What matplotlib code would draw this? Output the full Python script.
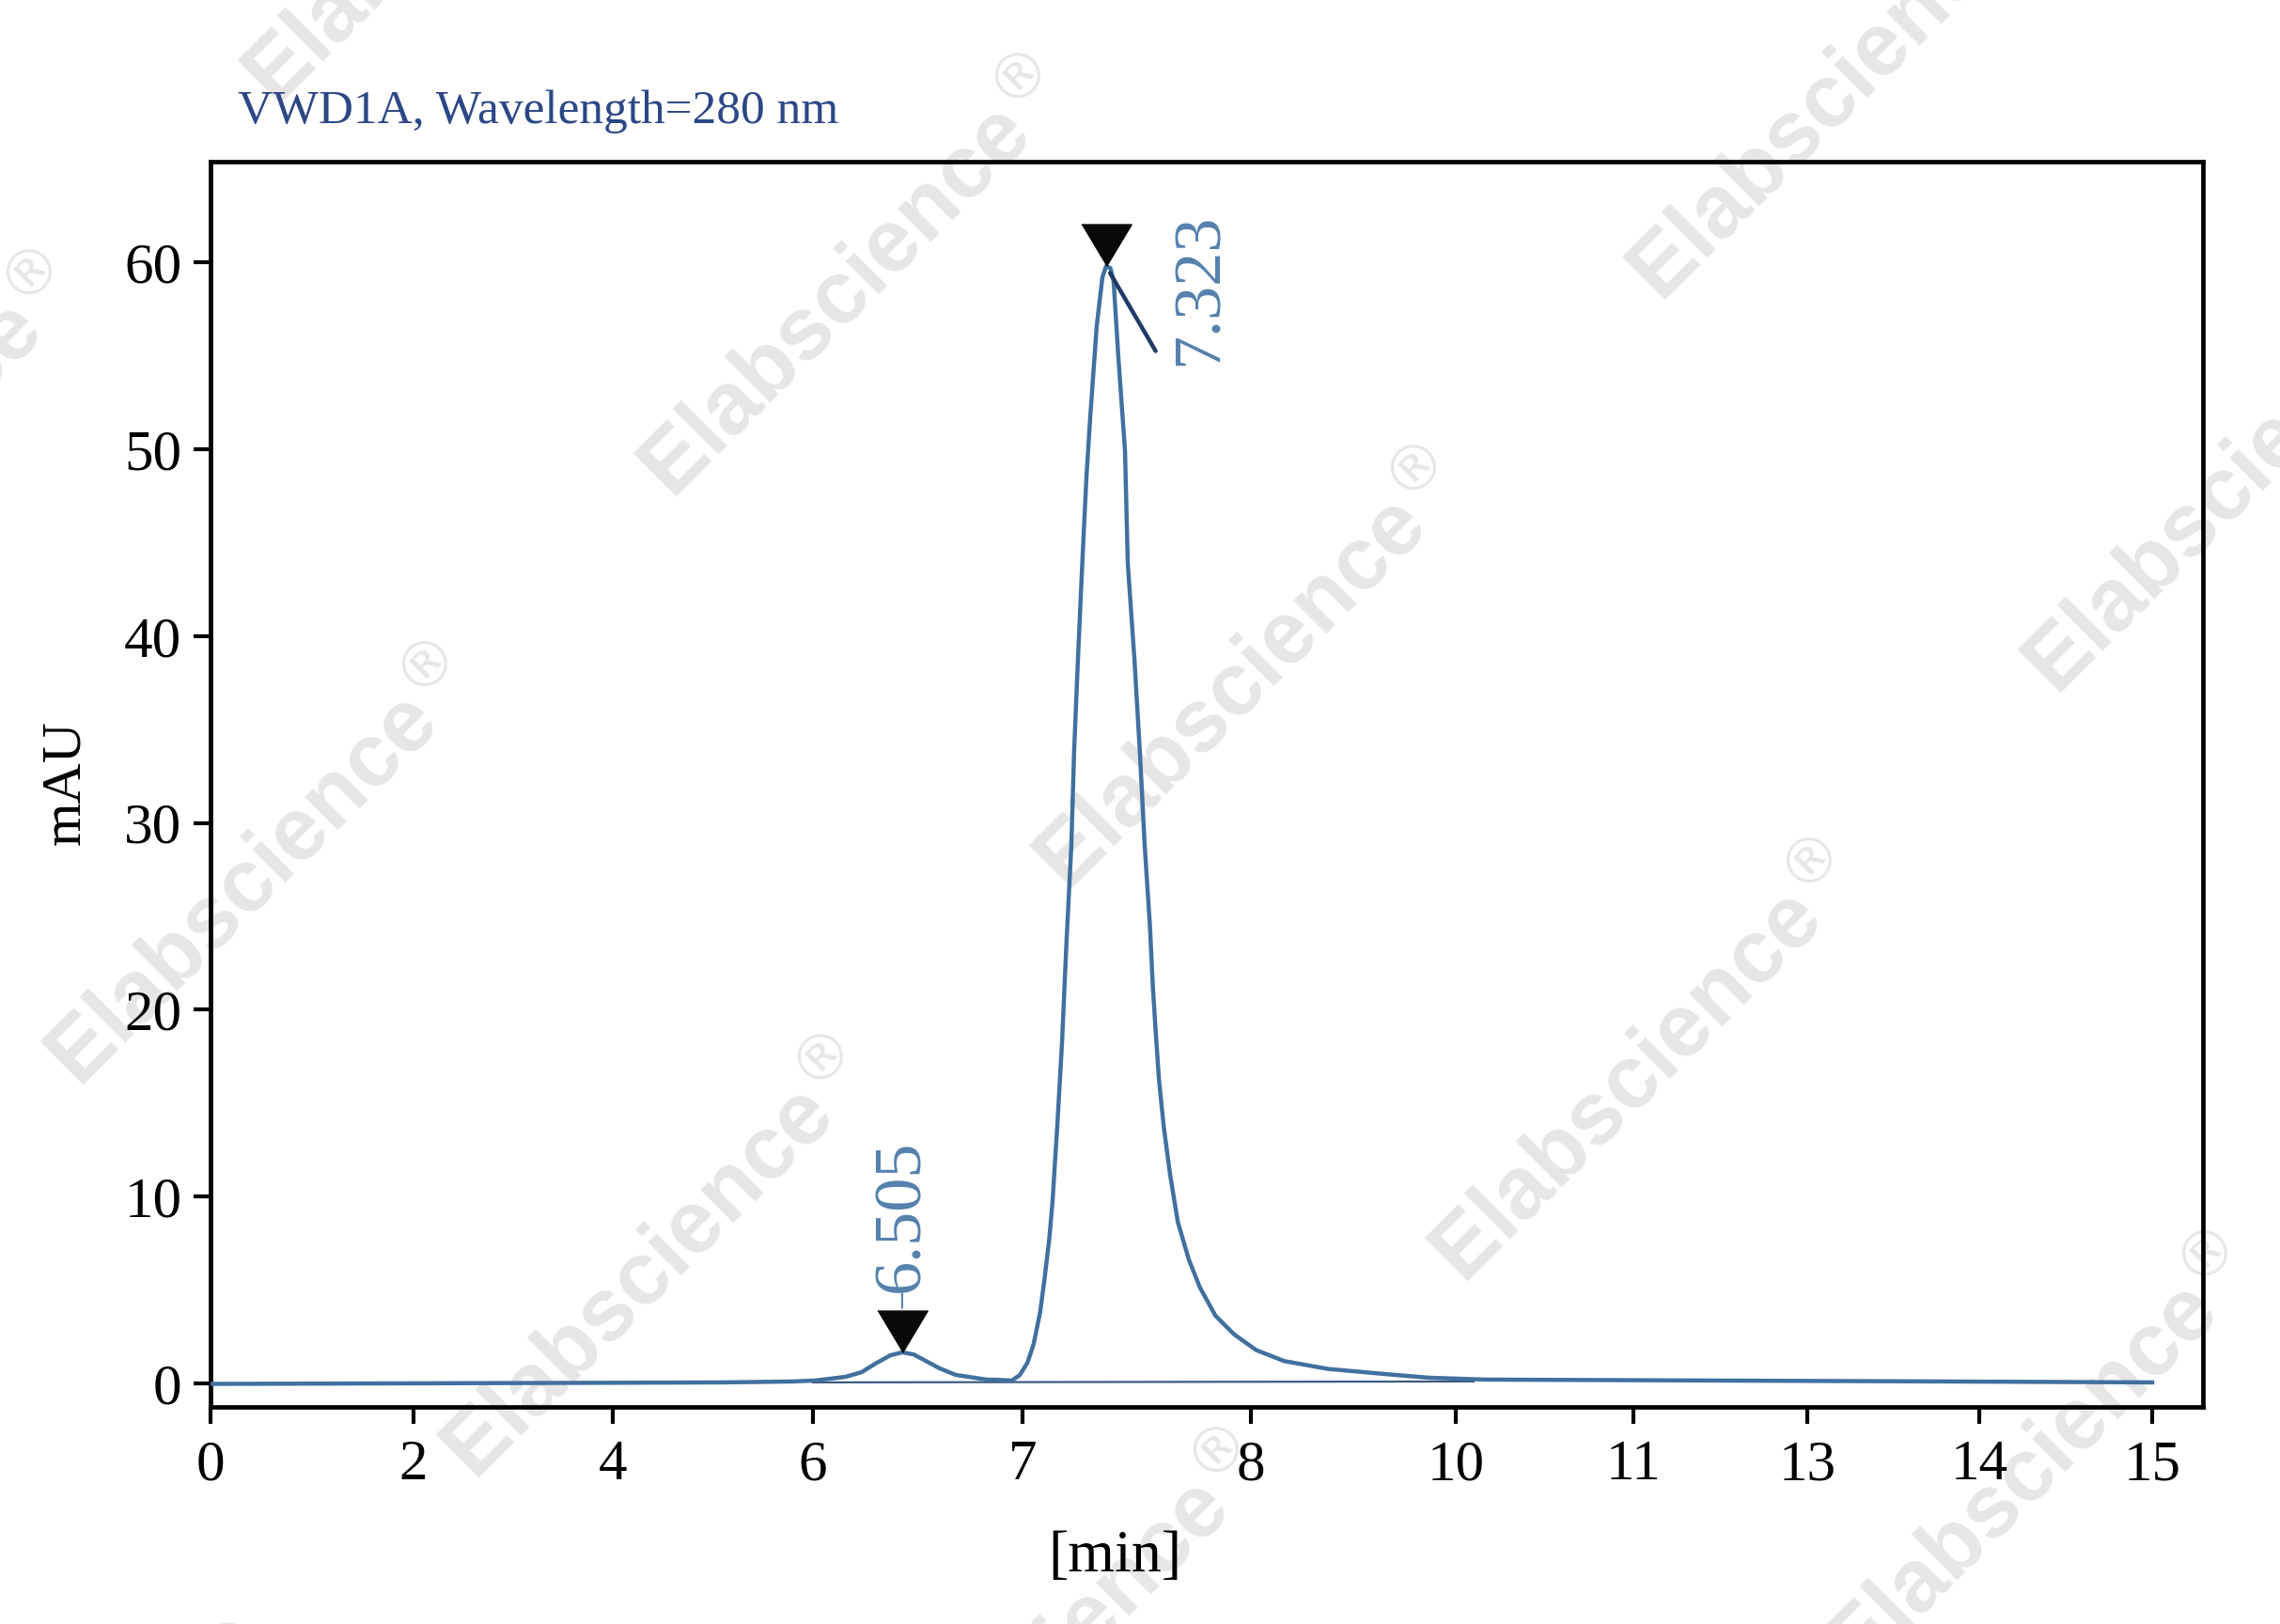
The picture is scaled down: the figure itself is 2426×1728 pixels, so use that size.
import numpy as np
import matplotlib
matplotlib.use("Agg")
import matplotlib.pyplot as plt
from matplotlib.ticker import FixedLocator, NullLocator

# chromatogram trace (time in min, absorbance in mAU)
time_min = [0.0, 2.0, 4.0, 5.1, 5.4, 5.8, 6.01, 6.157, 6.233, 6.305, 6.37, 6.426,
            6.48, 6.529, 6.605, 6.682, 6.83, 6.874, 6.949, 6.987, 7.022, 7.049,
            7.077, 7.097, 7.118, 7.132, 7.139, 7.152, 7.173, 7.193, 7.214, 7.226,
            7.243, 7.263, 7.28, 7.296, 7.325, 7.35, 7.366, 7.385, 7.399, 7.42,
            7.449, 7.461, 7.49, 7.514, 7.535, 7.558, 7.571, 7.584, 7.598, 7.619,
            7.646, 7.68, 7.728, 7.777, 7.845, 7.927, 8.052, 8.327, 8.755, 9.367,
            9.74, 10.17, 11.93, 13.79, 15.0]
mau = [-0.03, 0.0, 0.03, 0.05, 0.07, 0.1, 0.15, 0.35, 0.6, 1.1, 1.5, 1.66,
       1.55, 1.26, 0.8, 0.45, 0.2, 0.19, 0.15, 0.44, 1.11, 2.11,
       3.79, 5.63, 7.81, 9.8, 11.2, 13.7, 18.2, 23.7, 28.8, 33.8,
       38.8, 44.2, 48.5, 51.6, 56.6, 59.2, 59.8, 59.7, 59.0, 54.9,
       49.9, 43.9, 38.8, 33.8, 28.8, 24.5, 21.2, 18.7, 16.2, 13.7,
       11.2, 8.65, 6.64, 5.13, 3.62, 2.62, 1.78, 1.19, 0.77, 0.47,
       0.3, 0.2, 0.15, 0.1, 0.05]

# integration baseline under the peaks
base_t = [6.0, 10.1]
base_v = [0.05, 0.1]

# detected peaks: where the marker sits, and the printed retention time
peak_t = [6.426, 7.366]
peak_v = [1.66, 59.8]
peak_labels = ["6.505", "7.323"]

xticks = [0, 2, 4, 6, 7, 8, 10, 11, 13, 14, 15]
yticks = [0, 10, 20, 30, 40, 50, 60]

# the time axis of the original is not evenly spaced: tick -> screen offset
warp_min = [-5, 0, 2, 4, 6, 7, 8, 10, 11, 13, 14, 15, 20]
warp_px = [-540, 0, 216, 428, 641, 864, 1107, 1325, 1514, 1699, 1882, 2066, 2986]


def fwd(x):
    return np.interp(x, warp_min, warp_px)


def inv(p):
    return np.interp(p, warp_px, warp_min)


serif = ["Liberation Serif", "DejaVu Serif"]
trace_col = "#41709f"
label_col = "#5581ad"

fig = plt.figure(figsize=(24.26, 17.28), dpi=100)
fig.patch.set_facecolor("white")

# faint watermark lattice behind everything
W, H = 1568.0, 1117.0
origin = np.array([590.0, 195.0])
step_a = np.array([272.0, 270.0])
step_b = np.array([680.0, -135.0])
for i in range(-3, 4):
    for j in range(-3, 4):
        cx, cy = origin + i * step_a + j * step_b
        if -250 < cx < W + 250 and -250 < cy < H + 250:
            fig.text(cx / W, 1 - cy / H, "Elabscience$^{\u00ae}$", rotation=45,
                     ha="center", va="center", fontsize=68, fontweight="bold",
                     family=["Liberation Sans", "DejaVu Sans"],
                     color="#e6e6e6", zorder=-5, rotation_mode="anchor")

ax = fig.add_axes([0.0923, 0.1337, 0.8739, 0.7668])
ax.patch.set_alpha(0)
ax.set_xscale("function", functions=(fwd, inv))

ax.plot(time_min, mau, color=trace_col, lw=3.2, zorder=3, solid_joinstyle="round")
ax.plot(base_t, base_v, color="#3c5a80", lw=1.6, zorder=2)

tri = [(-0.6, 1.0), (0.6, 1.0), (0.0, 0.0)]
ax.plot(peak_t, peak_v, ls="none", marker=tri, ms=64, color="#0a0a0a", zorder=4)

# 6.505 label: straight above its marker with a short stem
ax.annotate(peak_labels[0], (peak_t[0], peak_v[0]), xytext=(0, 46),
            textcoords="offset points", rotation=90, ha="center", va="bottom",
            fontsize=52, family=serif, color=label_col)
ax.annotate("", (peak_t[0], peak_v[0]), xytext=(0, 45), textcoords="offset points",
            arrowprops=dict(arrowstyle="-", color=label_col, lw=1.5,
                            shrinkA=0, shrinkB=34))

# 7.323 label: to the right, with a slanted leader line
ax.annotate(peak_labels[1], (peak_t[1], peak_v[1]), xytext=(72, -76),
            textcoords="offset points", rotation=90, ha="center", va="bottom",
            fontsize=52, family=serif, color=label_col)
ax.annotate("", (peak_t[1], peak_v[1]), xytext=(38, -65), textcoords="offset points",
            arrowprops=dict(arrowstyle="-", color="#1f3a66", lw=3.2,
                            shrinkA=0, shrinkB=6))

ax.set_xlim(0, inv(2120))
ax.set_ylim(-1.26, 65.4)
ax.xaxis.set_major_locator(FixedLocator(xticks))
ax.xaxis.set_minor_locator(NullLocator())
ax.set_xticklabels([str(t) for t in xticks])
ax.set_yticks(yticks)

for s in ax.spines.values():
    s.set_linewidth(3.4)
ax.tick_params(axis="both", direction="out", length=13, width=3,
               labelsize=44, color="black")
ax.tick_params(axis="x", pad=12)
ax.tick_params(axis="y", pad=9)
for lab in ax.get_xticklabels() + ax.get_yticklabels():
    lab.set_family(serif)

fig.text(253 / 2426, 1 - 131 / 1728, "VWD1A, Wavelength=280 nm", ha="left",
         va="baseline", fontsize=37, family=serif, color="#2c4785")
fig.text(70 / 2426, 0.518, "mAU", rotation=90, ha="center", va="center",
         fontsize=43, family=serif, color="black")
fig.text(1186 / 2426, 1 - 1657 / 1728, "[min]", ha="center", va="center",
         fontsize=46, family=serif, color="black")

fig.savefig("out.png", dpi=100)
